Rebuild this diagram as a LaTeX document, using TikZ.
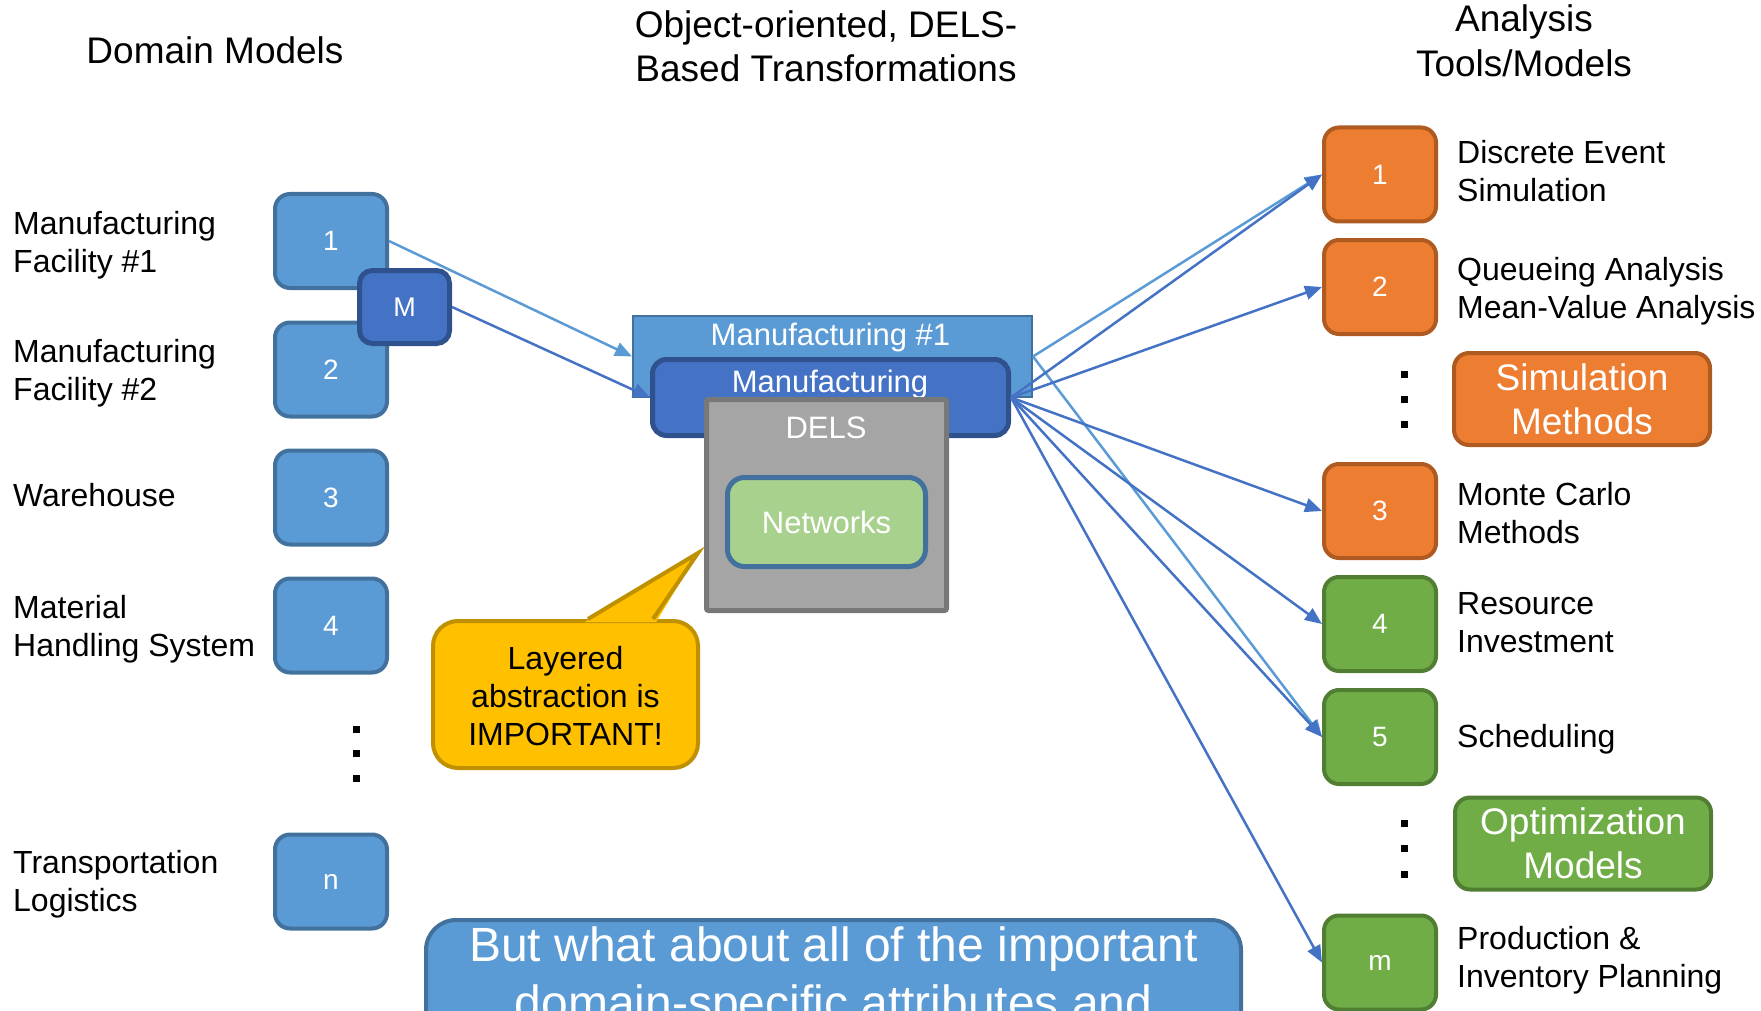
\documentclass[tikz,border=0pt]{standalone}
\usepackage{fontspec}
\setmainfont{Liberation Sans}
\usetikzlibrary{arrows.meta}

\definecolor{blueA}{HTML}{5B9BD5}
\definecolor{blueAd}{HTML}{41719C}
\definecolor{blueB}{HTML}{4472C4}
\definecolor{blueBd}{HTML}{2F528F}
\definecolor{orangeA}{HTML}{ED7D31}
\definecolor{orangeAd}{HTML}{AE5A21}
\definecolor{greenA}{HTML}{70AD47}
\definecolor{greenAd}{HTML}{507E32}
\definecolor{grayA}{HTML}{A5A5A5}
\definecolor{grayAd}{HTML}{787878}
\definecolor{netgreen}{HTML}{A9D18E}
\definecolor{goldA}{HTML}{FFC000}
\definecolor{goldAd}{HTML}{BF9000}

\begin{document}
\begin{tikzpicture}[
  x=1pt, y=-1pt,
  numbox/.style={rounded corners=15pt, line width=4pt, minimum width=112pt,
    minimum height=94pt, inner sep=0pt, text=white,
    font=\fontsize{28}{34}\selectfont},
  bluebox/.style={numbox, fill=blueA, draw=blueAd},
  orangebox/.style={numbox, fill=orangeA, draw=orangeAd},
  greenbox/.style={numbox, fill=greenA, draw=greenAd},
  mbox/.style={rounded corners=13pt, line width=5pt, minimum width=90pt,
    minimum height=73pt, inner sep=0pt, fill=blueB, draw=blueBd, text=white,
    font=\fontsize{27}{32}\selectfont},
  lbl/.style={anchor=west, align=left, inner sep=0pt,
    font=\fontsize{32}{38}\selectfont},
  title/.style={align=center, inner sep=0pt, font=\fontsize{37}{40}\selectfont},
  midtxt/.style={inner sep=0pt, text=white, font=\fontsize{31}{37}\selectfont},
  groupbox/.style={rounded corners=15pt, line width=4pt, minimum width=256pt,
    minimum height=92pt, inner sep=0pt, align=center, text=white,
    font=\fontsize{37}{44}\selectfont},
  dot/.style={fill=black, inner sep=0pt, minimum size=7pt},
  flowA/.style={draw=blueA, line width=2.5pt, -{Triangle[length=17pt,width=14pt]}},
  flowB/.style={draw=blueB, line width=2.5pt, -{Triangle[length=17pt,width=14pt]}},
]
\useasboundingbox (0,0) rectangle (1761,1011);
\clip (0,0) rectangle (1761,1011);

% column titles
\node[title] (tdom) at (215,50) {Domain Models};
\node[title, font=\fontsize{37}{43.5}\selectfont] (ttra) at (826,46.5)
  {Object-oriented, DELS-\\Based Transformations};
\node[title, font=\fontsize{37}{45}\selectfont] (tana) at (1524,41) {Analysis\\Tools/Models};

% domain models
\node[bluebox] (d1) at (331,241) {1};
\node[bluebox] (d2) at (331,369.5) {2};
\node[bluebox] (d3) at (331,497.5) {3};
\node[bluebox] (d4) at (331,625.5) {4};
\node[bluebox] (dn) at (331,881.5) {n};
\node[mbox] (m) at (404.5,307) {M};

\node[lbl] (ld1) at (13,245) {Manufacturing\\Facility \#1};
\node[lbl] (ld2) at (13,373.5) {Manufacturing\\Facility \#2};
\node[lbl] (ld3) at (13,495.5) {Warehouse};
\node[lbl] (ld4) at (13,629.5) {Material\\Handling System};
\node[lbl] (ldn) at (13,884.5) {Transportation\\Logistics};

\node[dot] (ldot1) at (356,729) {};
\node[dot] (ldot2) at (356,753) {};
\node[dot] (ldot3) at (356,778) {};

% layered transformation stack
\node[fill=blueA, draw=blueAd, line width=2pt, minimum width=399pt,
  minimum height=81pt, inner sep=0pt] (mf1) at (832.5,356.5) {};
\node[midtxt, anchor=base] (mf1t) at (830.5,345) {Manufacturing \#1};
\node[fill=blueB, draw=blueBd, line width=5pt, rounded corners=14pt,
  minimum width=356pt, minimum height=76pt, inner sep=0pt] (mf) at (830.5,397.5) {};
\node[midtxt, anchor=base] (mft) at (830,392) {Manufacturing};
\node[fill=grayA, draw=grayAd, line width=5pt, rounded corners=2pt,
  minimum width=240pt, minimum height=211pt, inner sep=0pt] (dels) at (826.5,505) {};
\node[midtxt, anchor=base] (delst) at (826,438) {DELS};
\node[fill=netgreen, draw=blueAd, line width=5pt, rounded corners=17pt,
  minimum width=198pt, minimum height=89pt, inner sep=0pt, text=white,
  font=\fontsize{31}{37}\selectfont] (net) at (826.5,522) {Networks};

% callout
\node[fill=goldA, draw=goldAd, line width=4pt, rounded corners=25pt,
  minimum width=265pt, minimum height=147pt, inner sep=0pt, align=center,
  font=\fontsize{32}{38}\selectfont] (call) at (565.5,694.5) {};
\node[inner sep=0pt, align=center, font=\fontsize{32}{38}\selectfont]
  (callt) at (565.5,696.5) {Layered\\abstraction is\\IMPORTANT!};
\fill[goldA] (585,622) -- (698,553) -- (656,622) -- cycle;
\draw[goldAd, line width=4pt, line join=miter] (588,619) -- (698,553) -- (653,619);

% analysis tools
\node[orangebox] (a1) at (1380,174.5) {1};
\node[orangebox] (a2) at (1380,287) {2};
\node[orangebox] (a3) at (1380,511) {3};
\node[greenbox] (a4) at (1380,624) {4};
\node[greenbox] (a5) at (1380,737) {5};
\node[greenbox] (am) at (1380,962.5) {m};

\node[lbl] (la1) at (1457,171) {Discrete Event\\Simulation};
\node[lbl] (la2) at (1457,291.5) {Queueing Analysis\\Mean-Value Analysis};
\node[lbl] (la3) at (1457,513) {Monte Carlo\\Methods};
\node[lbl] (la4) at (1457,623) {Resource\\Investment};
\node[lbl] (la5) at (1457,739) {Scheduling};
\node[lbl] (lam) at (1457,960.5) {Production \&\\Inventory Planning};

\node[groupbox, fill=orangeA, draw=orangeAd] (sim) at (1582,399) {Simulation\\Methods};
\node[groupbox, fill=greenA, draw=greenAd] (opt) at (1583,843.5) {Optimization\\Models};

\node[dot] (rdot1) at (1404,374) {};
\node[dot] (rdot2) at (1404,399) {};
\node[dot] (rdot3) at (1404,424) {};
\node[dot] (rdot4) at (1404,823) {};
\node[dot] (rdot5) at (1404,848) {};
\node[dot] (rdot6) at (1404,874) {};

% question box
\node[fill=blueA, draw=blueAd, line width=4pt, rounded corners=30pt,
  minimum width=815pt, minimum height=200pt, inner sep=0pt, anchor=north]
  (q) at (833.5,918) {};
\node[inner sep=0pt, anchor=north, align=center, text=white,
  font=\fontsize{48}{58}\selectfont] (qt) at (833.5,927)
  {But what about all of the important\\domain-specific attributes and};

% connectors
\draw[flowA] (d1.east) -- (mf1.west);
\draw[flowB] (m.east) -- (mf.west);
\draw[flowA] (mf1.east) -- (a1.west);
\draw[flowA] (mf1.east) -- (a5.west);
\draw[flowB] (mf.east) -- (a1.west);
\draw[flowB] (mf.east) -- (a2.west);
\draw[flowB] (mf.east) -- (a3.west);
\draw[flowB] (mf.east) -- (a4.west);
\draw[flowB] (mf.east) -- (a5.west);
\draw[flowB] (mf.east) -- (am.west);
\end{tikzpicture}
\end{document}
